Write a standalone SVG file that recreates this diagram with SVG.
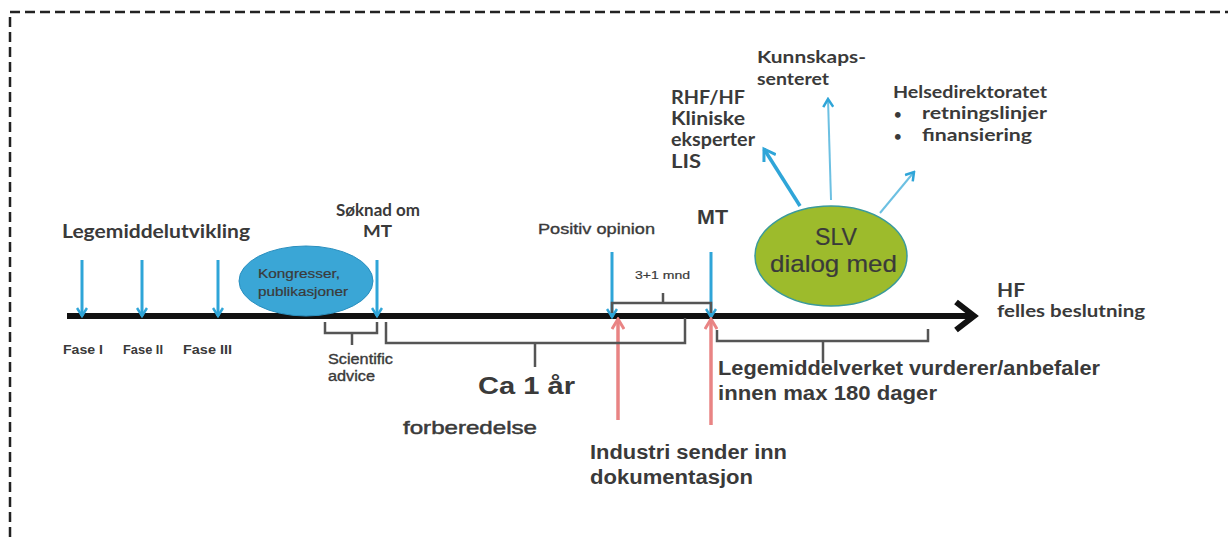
<svg xmlns="http://www.w3.org/2000/svg" width="1228" height="537" viewBox="0 0 1228 537">
<defs>
<style>
.t{font-family:"Liberation Sans",Arial,sans-serif;font-weight:bold;fill:#3a3a3a}
.n{font-family:"Liberation Sans",Arial,sans-serif;fill:#3a3a3a;stroke:#3a3a3a;stroke-width:0.35}
.c{font-family:Lato,"Open Sans",sans-serif;font-weight:bold;fill:#3a3a3a}
.blue{stroke:#2fa5d8;stroke-width:3;fill:none}
.red{stroke:#e98484;stroke-width:3.5;fill:none}
.br{stroke:#555;stroke-width:2.5;fill:none}
</style>
<marker id="ab" markerWidth="12" markerHeight="12" refX="10" refY="6" orient="auto" markerUnits="userSpaceOnUse">
<polyline points="2,1 10,6 2,11" fill="none" stroke="#2fa5d8" stroke-width="2.5"/>
</marker>
<marker id="ar" markerWidth="14" markerHeight="14" refX="12" refY="7" orient="auto" markerUnits="userSpaceOnUse">
<polyline points="2,1 12,7 2,13" fill="none" stroke="#e98484" stroke-width="3"/>
</marker>
<marker id="ab2" markerWidth="16" markerHeight="16" refX="13" refY="8" orient="auto" markerUnits="userSpaceOnUse">
<polyline points="2,1 13,8 2,15" fill="none" stroke="#2fa5d8" stroke-width="3"/>
</marker>
</defs>
<rect width="1228" height="537" fill="#fff"/>
<path d="M10,537 V12 H1228" fill="none" stroke="#222" stroke-width="2.5" stroke-dasharray="10,5"/>

<g id="timeline">
<line x1="67" y1="316" x2="972" y2="316" stroke="#111" stroke-width="6"/>
<polyline points="956,302 974,316 956,330" fill="none" stroke="#111" stroke-width="6"/>
</g>

<g id="connectors">
<line class="blue" x1="82" y1="260" x2="82" y2="316" marker-end="url(#ab)"/>
<line class="blue" x1="142" y1="260" x2="142" y2="316" marker-end="url(#ab)"/>
<line class="blue" x1="218" y1="260" x2="218" y2="316" marker-end="url(#ab)"/>
<line class="blue" x1="377" y1="260" x2="377" y2="316" marker-end="url(#ab)"/>
<line class="blue" x1="612" y1="252" x2="612" y2="317" marker-end="url(#ab)"/>
<line class="blue" x1="711" y1="252" x2="711" y2="317" marker-end="url(#ab)"/>
<line class="red" x1="618" y1="420" x2="618" y2="319" marker-end="url(#ar)"/>
<line class="red" x1="711" y1="425" x2="711" y2="319" marker-end="url(#ar)"/>
<line x1="800" y1="206" x2="764" y2="149" stroke="#2fa5d8" stroke-width="3.5" marker-end="url(#ab2)"/>
<line x1="831" y1="200" x2="828" y2="99" stroke="#6cc0e2" stroke-width="2" marker-end="url(#ab)"/>
<line x1="880" y1="213" x2="914" y2="172" stroke="#6cc0e2" stroke-width="2" marker-end="url(#ab)"/>
<path class="br" d="M325,322 V333 H377 V322 M352,333 V345"/>
<path class="br" d="M386,322 V343 H685 V318 M535,343 V367"/>
<path class="br" d="M612,313 V303 H711 V313 M663,303 V293" stroke-width="2"/>
<path class="br" d="M717,330 V341 H928 V329 M823,341 V363"/>
</g>

<g id="kongresser">
<ellipse cx="306" cy="281" rx="67" ry="35" fill="#3aa6d6" stroke="#2a8fbf" stroke-width="1"/>
<text class="n" x="258" y="278" font-size="12" textLength="82" lengthAdjust="spacingAndGlyphs" style="stroke-width:0.2">Kongresser,</text>
<text class="n" x="258" y="296" font-size="12" textLength="90" lengthAdjust="spacingAndGlyphs" style="stroke-width:0.2">publikasjoner</text>
</g>

<g id="slv">
<ellipse cx="831" cy="256" rx="76" ry="50" fill="#9dbb2c" stroke="#3a9a9a" stroke-width="1.5"/>
<text class="n" x="815" y="245" font-size="24" textLength="42" lengthAdjust="spacingAndGlyphs" style="stroke-width:0.2">SLV</text>
<text class="n" x="770" y="272" font-size="24" textLength="127" lengthAdjust="spacingAndGlyphs" style="stroke-width:0.2">dialog  med</text>
</g>

<g id="labels-left">
<text class="c" x="62" y="238" font-size="18.5" textLength="188" lengthAdjust="spacingAndGlyphs">Legemiddelutvikling</text>
<text class="t" x="63" y="354" font-size="12" textLength="40" lengthAdjust="spacingAndGlyphs">Fase I</text>
<text class="t" x="123" y="354" font-size="12" textLength="40" lengthAdjust="spacingAndGlyphs">Fase II</text>
<text class="t" x="183" y="354" font-size="12" textLength="49" lengthAdjust="spacingAndGlyphs">Fase III</text>
</g>

<g id="soknad">
<text class="c" x="336" y="216" font-size="17" textLength="84" lengthAdjust="spacingAndGlyphs">Søknad om</text>
<text class="c" x="363" y="237" font-size="17" textLength="29" lengthAdjust="spacingAndGlyphs">MT</text>
</g>

<g id="scientific">
<text class="n" x="328" y="364" font-size="14" textLength="65" lengthAdjust="spacingAndGlyphs">Scientific</text>
<text class="n" x="328" y="381" font-size="14" textLength="47" lengthAdjust="spacingAndGlyphs">advice</text>
</g>

<g id="ca1ar">
<text class="t" x="478" y="394" font-size="23" textLength="97" lengthAdjust="spacingAndGlyphs">Ca 1 år</text>
<text class="n" x="403" y="434" font-size="18.5" textLength="134" lengthAdjust="spacingAndGlyphs" style="stroke-width:0.5">forberedelse</text>
</g>

<g id="positiv">
<text class="n" x="538" y="234" font-size="15" textLength="117" lengthAdjust="spacingAndGlyphs">Positiv opinion</text>
<text class="n" x="635" y="279" font-size="11.5" textLength="55" lengthAdjust="spacingAndGlyphs" style="stroke-width:0.2">3+1 mnd</text>
</g>

<g id="mt">
<text class="t" x="697" y="224" font-size="20" textLength="31" lengthAdjust="spacingAndGlyphs">MT</text>
</g>

<g id="industri">
<text class="t" x="590" y="459" font-size="20" textLength="197" lengthAdjust="spacingAndGlyphs">Industri sender inn</text>
<text class="t" x="590" y="484" font-size="20" textLength="163" lengthAdjust="spacingAndGlyphs">dokumentasjon</text>
</g>

<g id="legemiddelverket">
<text class="t" x="718" y="375" font-size="20.5" textLength="382" lengthAdjust="spacingAndGlyphs">Legemiddelverket vurderer/anbefaler</text>
<text class="t" x="718" y="400" font-size="20.5" textLength="219" lengthAdjust="spacingAndGlyphs">innen max 180 dager</text>
</g>

<g id="hf">
<text class="c" x="997" y="297" font-size="18.5" textLength="28" lengthAdjust="spacingAndGlyphs">HF</text>
<text class="c" x="997" y="317" font-size="17" textLength="148" lengthAdjust="spacingAndGlyphs">felles beslutning</text>
</g>

<g id="rhf">
<text class="c" x="671" y="104" font-size="18" textLength="74" lengthAdjust="spacingAndGlyphs">RHF/HF</text>
<text class="c" x="671" y="125" font-size="18" textLength="74" lengthAdjust="spacingAndGlyphs">Kliniske</text>
<text class="c" x="671" y="146" font-size="18" textLength="84" lengthAdjust="spacingAndGlyphs">eksperter</text>
<text class="c" x="671" y="168" font-size="18" textLength="30" lengthAdjust="spacingAndGlyphs">LIS</text>
</g>

<g id="kunnskap">
<text class="c" x="757" y="63" font-size="17" textLength="109" lengthAdjust="spacingAndGlyphs">Kunnskaps-</text>
<text class="c" x="757" y="85" font-size="17" textLength="72" lengthAdjust="spacingAndGlyphs">senteret</text>
</g>

<g id="helsedir">
<text class="c" x="893" y="98" font-size="17" textLength="154" lengthAdjust="spacingAndGlyphs">Helsedirektoratet</text>
<text class="c" x="894" y="119" font-size="13">•</text>
<text class="c" x="922" y="119" font-size="17" textLength="125" lengthAdjust="spacingAndGlyphs">retningslinjer</text>
<text class="c" x="894" y="141" font-size="13">•</text>
<text class="c" x="922" y="141" font-size="17" textLength="110" lengthAdjust="spacingAndGlyphs">finansiering</text>
</g>
</svg>
